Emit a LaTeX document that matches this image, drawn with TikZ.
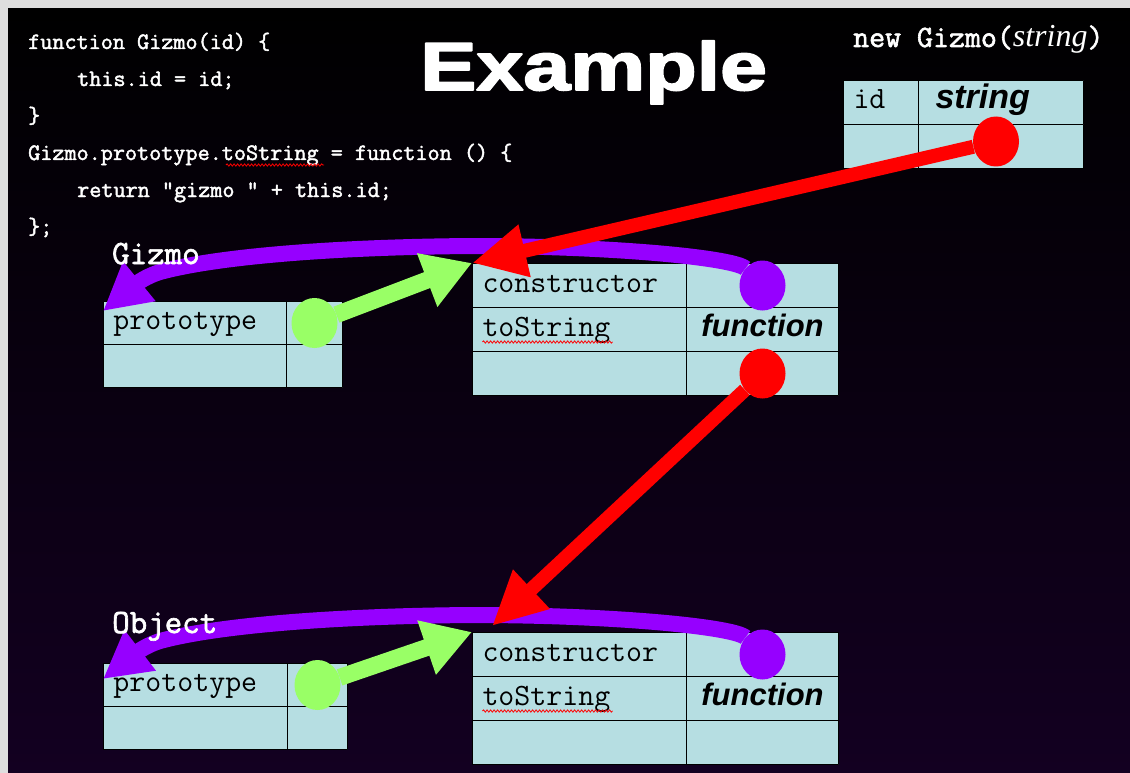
\documentclass[tikz,border=0pt]{standalone}
\usepackage{fontspec}
\setmainfont{Liberation Serif}
\setsansfont{Liberation Sans}
\newfontfamily\titlefont{Liberation Sans}[BoldFeatures={FakeBold=2.5}]
\newfontfamily\boldmono{Latin Modern Mono}[FakeBold=2]
\usetikzlibrary{matrix,arrows.meta,shapes.geometric,decorations.pathmorphing}

\definecolor{cellblue}{RGB}{182,222,226}
\definecolor{ptrred}{RGB}{255,0,0}
\definecolor{ptrpurple}{RGB}{150,0,255}
\definecolor{ptrgreen}{RGB}{153,255,102}
\definecolor{bgpurple}{RGB}{19,0,33}
\definecolor{framegray}{RGB}{222,222,222}

\tikzset{
  code/.style={anchor=base west, inner sep=0pt, text=white, font=\boldmono\fontsize{23.5}{26}\selectfont},
  objname/.style={anchor=base west, inner sep=0pt, text=white, font=\boldmono\fontsize{34}{36}\selectfont},
  table/.style={matrix of nodes, nodes in empty cells, anchor=north west, inner sep=0pt, outer sep=0pt,
    row sep=-1pt, column sep=-1pt, nodes={cell}},
  cell/.style={draw=black, line width=1pt, fill=cellblue, minimum height=44pt, inner xsep=10pt, inner ysep=0pt,
    text height=19pt, text depth=6pt, font=\ttfamily\fontsize{31}{33}\selectfont},
  keycol/.style={text width=#1, align=left},
  valcol/.style={text width=#1, align=center, font=\sffamily\bfseries\itshape\fontsize{31}{34}\selectfont},
  dot/.style={ellipse, fill=#1, minimum width=46pt, minimum height=50pt, inner sep=0pt},
  pointer/.style={draw=#1, line width=15pt, -{Triangle[length=50pt,width=50pt]}},
  spellwave/.style={draw=red, line width=0.8pt, decorate, decoration={snake, amplitude=1.2pt, segment length=3.5pt}},
}

\begin{document}
\begin{tikzpicture}[x=1pt, y=-1pt, line join=round]
  \useasboundingbox (0,0) rectangle (1130,773);
  \fill[framegray] (0,0) rectangle (1130,773);
  \shade[top color=black, middle color=bgpurple!55!black, bottom color=bgpurple] (8,9) rectangle (1130,773);

  % source code
  \node[code] (c1) at (28,49) {function Gizmo(id) \{};
  \node[code] (c2) at (77,86) {this.id = id;};
  \node[code] (c3) at (28,123) {\}};
  \node[code] (c4) at (28,160) {Gizmo.prototype.toString = function () \{};
  \node[code] (c5) at (77,197) {return "gizmo " + this.id;};
  \node[code] (c6) at (28,234) {\};};
  \draw[spellwave] ([shift={(198,5)}]c4.base west) -- +(98,0);

  \node[anchor=base west, inner sep=0pt, text=white, font=\titlefont\bfseries\fontsize{68}{70}\selectfont]
    (title) at (420,90) {\scalebox{1.24}[1]{Example}};
  \node[anchor=base west, inner sep=0pt, text=white, font=\boldmono\fontsize{31}{33}\selectfont]
    (ctorcall) at (853,47) {new Gizmo(\textmd{\rmfamily\itshape\fontsize{32}{32}\selectfont string})};

  % objects
  \matrix (inst) [table, column 1/.style={nodes={keycol=55pt}}, column 2/.style={nodes={valcol=145pt}}] at (843,80) {
    id & |[align=left, inner xsep=17pt, text width=131pt]| {\fontsize{34}{36}\selectfont string} \\
       & \\
  };
  \matrix (gfun) [table, nodes={minimum height=43pt}, column 1/.style={nodes={keycol=163pt}},
      column 2/.style={nodes={valcol=36pt}}] at (103,301) {
    prototype & \\
              & \\
  };
  \matrix (gproto) [table, column 1/.style={nodes={keycol=194pt}}, column 2/.style={nodes={valcol=132pt}}] at (472,263) {
    constructor & \\
    toString & function \\
    & \\
  };
  \matrix (ofun) [table, nodes={minimum height=43pt}, column 1/.style={nodes={keycol=164pt}},
      column 2/.style={nodes={valcol=40pt}}] at (103,663) {
    prototype & \\
              & \\
  };
  \matrix (oproto) [table, column 1/.style={nodes={keycol=194pt}}, column 2/.style={nodes={valcol=132pt}}] at (472,632) {
    constructor & \\
    toString & function \\
    & \\
  };
  \draw[spellwave] ([shift={(10,6)}]gproto-2-1.base west) -- +(130,0);
  \draw[spellwave] ([shift={(10,6)}]oproto-2-1.base west) -- +(130,0);

  % pointer sources
  \node[dot=ptrred] (idot) at ([shift={(-5,-5)}]inst-2-2.center) {};
  \node[dot=ptrpurple] (gpdot) at (gproto-1-2) {};
  \node[dot=ptrgreen] (gfdot) at (gfun-1-2) {};
  \node[dot=ptrred] (tsdot) at (gproto-3-2) {};
  \node[dot=ptrpurple] (opdot) at (oproto-1-2) {};
  \node[dot=ptrgreen] (ofdot) at (ofun-1-2) {};

  % pointers
  \draw[pointer=ptrpurple, line width=16pt, -{Triangle[length=47pt,width=48pt]}] (gpdot)
    .. controls (735,258) and (615,246) .. (473,246)
    .. controls (330,247) and (215,257) .. (160,272)
    .. controls (140,278) and (125,293) .. ([yshift=-10pt]gfun.north west);
  \draw[pointer=ptrpurple, line width=16pt, -{Triangle[length=47pt,width=48pt]}] (opdot)
    .. controls (735,627) and (615,615) .. (473,615)
    .. controls (330,616) and (215,626) .. (160,641)
    .. controls (140,647) and (125,662) .. ([yshift=-16pt]ofun.north west);
  \draw[pointer=ptrgreen, line width=17pt, -{Triangle[length=48pt,width=54pt]}] (gfdot) -- (gproto.north west);
  \draw[pointer=ptrgreen, line width=17pt, -{Triangle[length=48pt,width=54pt]}] (ofdot) -- (oproto.north west);
  \draw[pointer=ptrred, line width=14pt, -{Triangle[length=54pt,width=50pt]}] (idot) -- (gproto.north west);
  \draw[pointer=ptrred, line width=14pt, -{Triangle[length=54pt,width=50pt]}] (tsdot) -- ([shift={(20,-6)}]oproto.north west);

  % constructor names
  \node[objname] (gizmoname) at (112,264) {Gizmo};
  \node[objname] (objectname) at (112,633) {Object};
\end{tikzpicture}
\end{document}
